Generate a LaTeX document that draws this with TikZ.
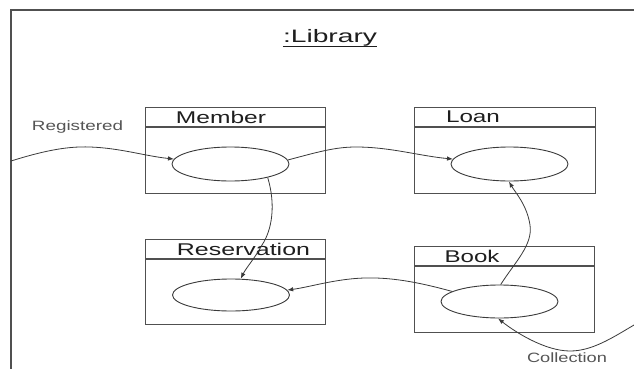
\documentclass[tikz,border=0pt]{standalone}
\usepackage{fontspec}
\usepackage{graphicx}
\setmainfont{Liberation Sans}
\usetikzlibrary{shapes.geometric,arrows.meta}
\definecolor{linec}{HTML}{3A3A3A}
\definecolor{boxc}{HTML}{505050}
\definecolor{txtc}{HTML}{1E1E1E}
\definecolor{lblc}{HTML}{555555}
\newcommand{\wtxt}[3]{\resizebox{#1}{\height}{\fontsize{#2}{#2}\selectfont #3}}
\tikzset{
  classbox/.style={draw=boxc, line width=1.1pt, minimum width=180pt, minimum height=86pt, inner sep=0pt, anchor=north west},
  hdrline/.style={draw=boxc, line width=1.1pt},
  roleell/.style={ellipse, draw=linec, line width=0.9pt, minimum width=117pt, minimum height=34pt, inner sep=0pt},
  hdrtxt/.style={text=txtc, inner sep=0pt},
  lbltxt/.style={text=lblc, inner sep=0pt},
  conn/.style={draw=linec, line width=0.8pt, -{Latex[length=6pt,width=4.5pt]}},
  frame/.style={draw=boxc, line width=1.1pt}
}
\begin{document}
\begin{tikzpicture}[x=1pt,y=-1pt]
\useasboundingbox (0,0) rectangle (634,369);
\fill[white] (0,0) rectangle (634,369);
% outer frame
\coordinate (fa) at (11,369);
\coordinate (fb) at (11,10);
\coordinate (fc) at (634,10);
\draw[frame] (fa) -- (fb) -- (fc);
% title
\node[hdrtxt] (lib) at (330,38) {\wtxt{94pt}{18}{:Library}};
\draw[draw=txtc, line width=0.8pt] ([yshift=-3.5pt]lib.base west) -- ([yshift=-3.5pt]lib.base east);
% boxes
\node[classbox] (memb) at (145,107) {};
\draw[hdrline] ([yshift=-20pt]memb.north west) -- ([yshift=-20pt]memb.north east);
\node[classbox, minimum width=181pt] (loanb) at (414,107) {};
\draw[hdrline] ([yshift=-20pt]loanb.north west) -- ([yshift=-20pt]loanb.north east);
\node[classbox, minimum height=85pt] (resvb) at (145,239) {};
\draw[hdrline] ([yshift=-20pt]resvb.north west) -- ([yshift=-20pt]resvb.north east);
\node[classbox, minimum width=180pt] (bookb) at (414,246) {};
\draw[hdrline] ([yshift=-20pt]bookb.north west) -- ([yshift=-20pt]bookb.north east);
% header texts
\node[hdrtxt] (memt) at (221,117) {\wtxt{90pt}{17}{Member}};
\node[hdrtxt] (loant) at (473,117) {\wtxt{54pt}{17}{Loan}};
\node[hdrtxt] (resvt) at (243.5,249) {\wtxt{133pt}{17}{Reservation}};
\node[hdrtxt] (bookt) at (472,256) {\wtxt{55pt}{17}{Book}};
% ellipses
\node[roleell] (mem) at (230.5,164) {};
\node[roleell] (loan) at (509.5,164) {};
\node[roleell, minimum height=32pt] (resv) at (231,295) {};
\node[roleell, minimum height=33pt] (book) at (499.5,301.5) {};
% labels
\node[lbltxt] (reg) at (77.5,127) {\wtxt{91pt}{13.5}{Registered}};
\node[lbltxt] (coll) at (567,358) {\wtxt{80pt}{13.5}{Collection}};
% free ends
\coordinate (r0) at (11,161);
\coordinate (c0) at (634,325);
% connectors
\draw[conn] (r0) .. controls (40,152) and (65,146) .. (90,147) .. controls (120,148) and (145,156) .. (mem.175);
\draw[conn] (mem.4) .. controls (318,152) and (335,147) .. (356,147) .. controls (390,147) and (420,156) .. (loan.175);
\draw[conn] (mem.-20) .. controls (276,205) and (272,230) .. (262,245) .. controls (255,258) and (246,268) .. (resv.59);
\draw[conn] (book.168) .. controls (425,284) and (395,277) .. (364,278) .. controls (335,279) and (310,287) .. (resv.5);
\draw[conn] (book.86) .. controls (515,262) and (533,245) .. (530,225) .. controls (527,205) and (515,192) .. (loan.-92);
\draw[conn] (c0) .. controls (612,338) and (592,351) .. (570,351) .. controls (545,351) and (515,332) .. (book.-95);
\end{tikzpicture}
\end{document}
